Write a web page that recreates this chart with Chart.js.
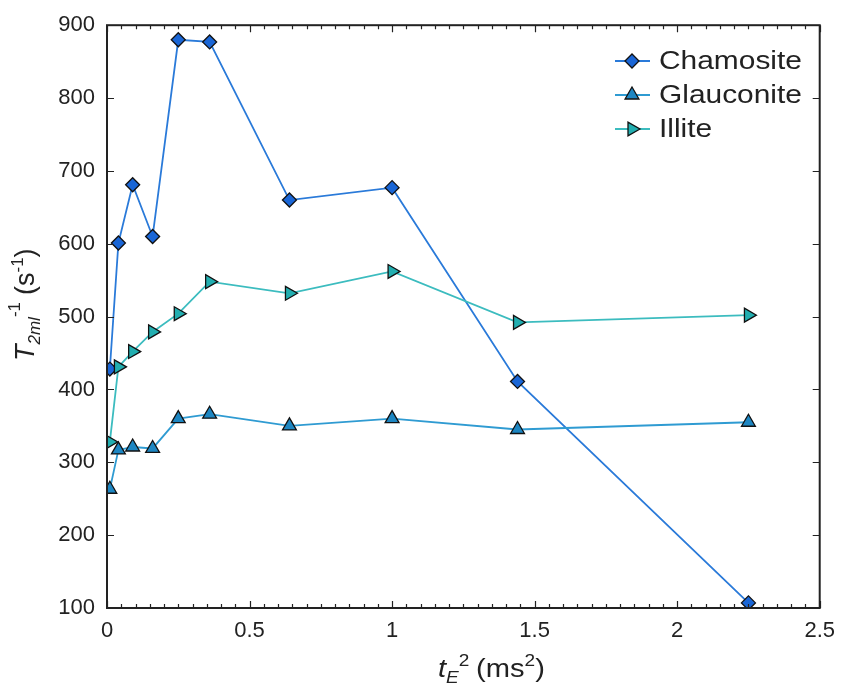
<!DOCTYPE html>
<html>
<head>
<meta charset="utf-8">
<script src="https://cdn.jsdelivr.net/npm/chart.js@4/dist/chart.umd.min.js"></script>
<style>
  html, body { margin: 0; padding: 0; background: #fff; }
  #wrap { width: 845px; height: 687px; }
</style>
</head>
<body>
<div id="wrap"><canvas id="grafico" width="845" height="687"></canvas></div>
<script>
// ===== datos =====
const tE2 = [0.01, 0.04, 0.09, 0.16, 0.25, 0.36, 0.64, 1.0, 1.44, 2.25];
const chamosite  = [428, 601, 681, 610, 880, 877, 660, 677, 411, 107];
const glauconite = [263, 317, 321, 319, 360, 366, 350, 360, 345, 355];
const illite     = [328, 431, 452, 479, 504, 548, 532, 562, 492, 502];

const xTicks = [0, 0.5, 1, 1.5, 2, 2.5];
const yTicks = [100, 200, 300, 400, 500, 600, 700, 800, 900];

const FONT = "'Liberation Sans', Arial, Helvetica, sans-serif";
const INK = "#222";

function pares(ys) {
  return tE2.map((x, i) => ({ x: x, y: ys[i] }));
}

function serie(label, ys, line, fill, style, radius, rot, order) {
  return {
    label: label,
    data: pares(ys),
    borderColor: line,
    borderWidth: 1.8,
    backgroundColor: fill,
    pointBackgroundColor: fill,
    pointBorderColor: "#111",
    pointBorderWidth: 1.3,
    pointStyle: style,
    pointRadius: radius,
    pointHoverRadius: radius,
    pointRotation: rot,
    tension: 0,
    fill: false,
    order: order
  };
}

// ===== texto con sub/superíndices =====
function medir(ctx, parts) {
  let w = 0;
  parts.forEach(p => { ctx.font = p.font; p.w = ctx.measureText(p.t).width; w += p.w + (p.gap || 0); });
  return w;
}
function escribir(ctx, parts, x0, y0) {
  let x = x0;
  parts.forEach(p => {
    ctx.font = p.font;
    ctx.fillText(p.t, x, y0 + (p.dy || 0));
    x += p.w + (p.gap || 0);
  });
}

// ===== plugin: marco, ticks interiores, títulos y leyenda =====
const decor = {
  id: "decor",
  afterDatasetsDraw(chart) {
    const { ctx, chartArea: a, scales: { x, y } } = chart;
    ctx.save();
    ctx.strokeStyle = INK;

    // ticks hacia dentro
    ctx.lineWidth = 1.2;
    ctx.beginPath();
    for (let i = 0; i <= 50; i++) {
      const v = i * 0.05;
      const px = Math.round(x.getPixelForValue(v)) + 0.5;
      const len = i % 10 === 0 ? 7 : 4;
      ctx.moveTo(px, a.bottom); ctx.lineTo(px, a.bottom - len);
      ctx.moveTo(px, a.top); ctx.lineTo(px, a.top + len);
    }
    yTicks.forEach(v => {
      const py = Math.round(y.getPixelForValue(v)) + 0.5;
      ctx.moveTo(a.left, py); ctx.lineTo(a.left + 7, py);
      ctx.moveTo(a.right, py); ctx.lineTo(a.right - 7, py);
    });
    ctx.stroke();

    // marco
    ctx.lineWidth = 2;
    ctx.strokeRect(a.left, a.top, a.right - a.left, a.bottom - a.top);

    ctx.fillStyle = INK;
    ctx.textBaseline = "alphabetic";
    ctx.textAlign = "left";

    // título eje x: t_E^2 (ms^2)
    const xt = [
      { t: "t", font: "italic 26px " + FONT },
      { t: "E", font: "italic 17px " + FONT, dy: 6 },
      { t: "2", font: "17px " + FONT, dy: -11, gap: 6 },
      { t: "(ms", font: "26px " + FONT },
      { t: "2", font: "17px " + FONT, dy: -11 },
      { t: ")", font: "26px " + FONT }
    ];
    medir(ctx, xt);
    ctx.save();
    ctx.translate(438, 677);
    ctx.scale(1.12, 1);
    escribir(ctx, xt, 0, 0);
    ctx.restore();

    // título eje y: T_2ml^-1 (s^-1)
    const yt = [
      { t: "T", font: "italic 27px " + FONT },
      { t: "2ml", font: "italic 17px " + FONT, dy: 6 },
      { t: "-1", font: "17px " + FONT, dy: -14, gap: 7 },
      { t: "(s", font: "27px " + FONT },
      { t: "-1", font: "17px " + FONT, dy: -11 },
      { t: ")", font: "27px " + FONT }
    ];
    medir(ctx, yt);
    ctx.save();
    ctx.translate(34, 361);
    ctx.rotate(-Math.PI / 2);
    escribir(ctx, yt, 0, 0);
    ctx.restore();

    // leyenda: línea + marcador + texto
    const filas = [61, 95, 129];
    chart.data.datasets.forEach((ds, i) => {
      const yy = filas[i];
      ctx.strokeStyle = ds.borderColor;
      ctx.lineWidth = ds.borderWidth;
      ctx.beginPath();
      ctx.moveTo(615, yy); ctx.lineTo(650, yy);
      ctx.stroke();
      if (Chart.helpers && Chart.helpers.drawPoint) {
        ctx.fillStyle = ds.pointBackgroundColor;
        ctx.strokeStyle = ds.pointBorderColor;
        ctx.lineWidth = ds.pointBorderWidth;
        Chart.helpers.drawPoint(ctx, {
          pointStyle: ds.pointStyle,
          rotation: ds.pointRotation,
          radius: ds.pointRadius,
          borderWidth: ds.pointBorderWidth
        }, 632, yy);
      }
      ctx.fillStyle = INK;
      ctx.font = "26px " + FONT;
      ctx.textBaseline = "middle";
      ctx.save();
      ctx.translate(659, yy + 1);
      ctx.scale(1.15, 1);
      ctx.fillText(ds.label, 0, 0);
      ctx.restore();
    });

    ctx.restore();
  }
};

// ===== gráfico =====
const ctx = document.getElementById("grafico").getContext("2d");
new Chart(ctx, {
  type: "line",
  data: {
    datasets: [
      serie("Chamosite",  chamosite,  "#2a7ad9", "#1a66d6", "rectRot",  7,   0, 3),
      serie("Glauconite", glauconite, "#2f9bd2", "#1d86c2", "triangle", 8,   0, 2),
      serie("Illite",     illite,     "#3cbcbf", "#22aeb0", "triangle", 8,  90, 1)
    ]
  },
  options: {
    responsive: false,
    animation: false,
    layout: { padding: { top: 25, right: 25, left: 0, bottom: 0 } },
    scales: {
      x: {
        type: "linear",
        min: 0, max: 2.5,
        afterFit: s => { s.height = 79; },
        afterBuildTicks: s => { s.ticks = xTicks.map(v => ({ value: v })); },
        grid: { display: false, drawTicks: false },
        border: { display: false },
        ticks: {
          padding: 10,
          color: INK,
          font: { family: FONT, size: 22 },
          callback: v => String(v)
        }
      },
      y: {
        min: 100, max: 900,
        afterFit: s => { s.width = 107; },
        afterBuildTicks: s => { s.ticks = yTicks.map(v => ({ value: v })); },
        grid: { display: false, drawTicks: false },
        border: { display: false },
        ticks: {
          padding: 12,
          color: INK,
          font: { family: FONT, size: 22 },
          callback: v => String(v)
        }
      }
    },
    plugins: {
      legend: { display: false },
      tooltip: { enabled: false }
    }
  },
  plugins: [decor]
});
</script>
</body>
</html>
